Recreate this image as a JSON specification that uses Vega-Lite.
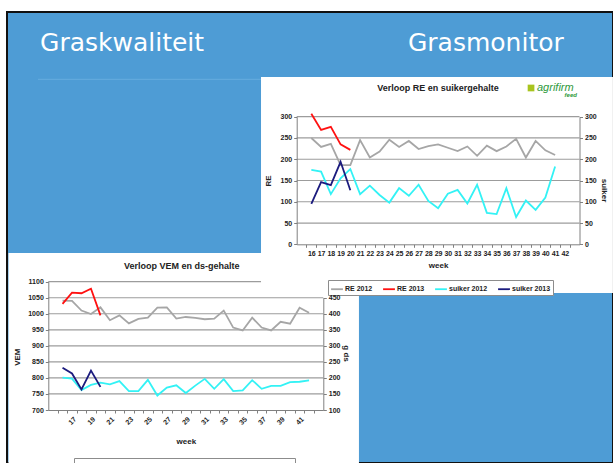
{
  "$schema": "https://vega.github.io/schema/vega-lite/v6.json",
  "width": 606,
  "height": 451,
  "autosize": {"type": "none"},
  "padding": {"left": 7, "top": 12, "right": 0, "bottom": 0},
  "background": "white",
  "config": {
    "view": {"fill": "#4E9CD5", "stroke": "#111111", "strokeWidth": 2},
    "axis": {
      "labelFont": "Liberation Sans", "labelFontWeight": "bold", "labelFontSize": 7, "labelColor": "#222222",
      "titleFont": "Liberation Sans", "titleFontSize": 8, "titleFontWeight": "bold", "titleColor": "#222222",
      "domainColor": "#808080", "tickColor": "#808080", "tickSize": 3, "grid": false, "zindex": 1, "labelPadding": 2
    },
    "line": {"strokeWidth": 1.8}
  },
  "datasets": {
    "one": [{}],
    "re": [
      {"week": 16, "value": 250, "series": "RE 2012"}, {"week": 17, "value": 229, "series": "RE 2012"},
      {"week": 18, "value": 236, "series": "RE 2012"}, {"week": 19, "value": 186, "series": "RE 2012"},
      {"week": 20, "value": 186, "series": "RE 2012"}, {"week": 21, "value": 245, "series": "RE 2012"},
      {"week": 22, "value": 204, "series": "RE 2012"}, {"week": 23, "value": 218, "series": "RE 2012"},
      {"week": 24, "value": 246, "series": "RE 2012"}, {"week": 25, "value": 229, "series": "RE 2012"},
      {"week": 26, "value": 243, "series": "RE 2012"}, {"week": 27, "value": 224, "series": "RE 2012"},
      {"week": 28, "value": 231, "series": "RE 2012"}, {"week": 29, "value": 235, "series": "RE 2012"},
      {"week": 30, "value": 227, "series": "RE 2012"}, {"week": 31, "value": 219, "series": "RE 2012"},
      {"week": 32, "value": 230, "series": "RE 2012"}, {"week": 33, "value": 208, "series": "RE 2012"},
      {"week": 34, "value": 232, "series": "RE 2012"}, {"week": 35, "value": 219, "series": "RE 2012"},
      {"week": 36, "value": 230, "series": "RE 2012"}, {"week": 37, "value": 248, "series": "RE 2012"},
      {"week": 38, "value": 204, "series": "RE 2012"}, {"week": 39, "value": 243, "series": "RE 2012"},
      {"week": 40, "value": 221, "series": "RE 2012"}, {"week": 41, "value": 210, "series": "RE 2012"},
      {"week": 16, "value": 307, "series": "RE 2013"}, {"week": 17, "value": 269, "series": "RE 2013"},
      {"week": 18, "value": 276, "series": "RE 2013"}, {"week": 19, "value": 235, "series": "RE 2013"},
      {"week": 20, "value": 222, "series": "RE 2013"}
    ],
    "suiker": [
      {"week": 16, "value": 175, "series": "suiker 2012"}, {"week": 17, "value": 171, "series": "suiker 2012"},
      {"week": 18, "value": 118, "series": "suiker 2012"}, {"week": 19, "value": 155, "series": "suiker 2012"},
      {"week": 20, "value": 177, "series": "suiker 2012"}, {"week": 21, "value": 118, "series": "suiker 2012"},
      {"week": 22, "value": 138, "series": "suiker 2012"}, {"week": 23, "value": 116, "series": "suiker 2012"},
      {"week": 24, "value": 98, "series": "suiker 2012"}, {"week": 25, "value": 132, "series": "suiker 2012"},
      {"week": 26, "value": 114, "series": "suiker 2012"}, {"week": 27, "value": 140, "series": "suiker 2012"},
      {"week": 28, "value": 102, "series": "suiker 2012"}, {"week": 29, "value": 85, "series": "suiker 2012"},
      {"week": 30, "value": 119, "series": "suiker 2012"}, {"week": 31, "value": 128, "series": "suiker 2012"},
      {"week": 32, "value": 96, "series": "suiker 2012"}, {"week": 33, "value": 140, "series": "suiker 2012"},
      {"week": 34, "value": 74, "series": "suiker 2012"}, {"week": 35, "value": 71, "series": "suiker 2012"},
      {"week": 36, "value": 132, "series": "suiker 2012"}, {"week": 37, "value": 64, "series": "suiker 2012"},
      {"week": 38, "value": 103, "series": "suiker 2012"}, {"week": 39, "value": 81, "series": "suiker 2012"},
      {"week": 40, "value": 110, "series": "suiker 2012"}, {"week": 41, "value": 183, "series": "suiker 2012"},
      {"week": 16, "value": 95, "series": "suiker 2013"}, {"week": 17, "value": 146, "series": "suiker 2013"},
      {"week": 18, "value": 139, "series": "suiker 2013"}, {"week": 19, "value": 194, "series": "suiker 2013"},
      {"week": 20, "value": 127, "series": "suiker 2013"}
    ],
    "vem": [
      {"week": 16, "value": 1041, "series": "VEM 2012"}, {"week": 17, "value": 1040, "series": "VEM 2012"},
      {"week": 18, "value": 1010, "series": "VEM 2012"}, {"week": 19, "value": 999, "series": "VEM 2012"},
      {"week": 20, "value": 1020, "series": "VEM 2012"}, {"week": 21, "value": 980, "series": "VEM 2012"},
      {"week": 22, "value": 995, "series": "VEM 2012"}, {"week": 23, "value": 970, "series": "VEM 2012"},
      {"week": 24, "value": 984, "series": "VEM 2012"}, {"week": 25, "value": 988, "series": "VEM 2012"},
      {"week": 26, "value": 1019, "series": "VEM 2012"}, {"week": 27, "value": 1020, "series": "VEM 2012"},
      {"week": 28, "value": 985, "series": "VEM 2012"}, {"week": 29, "value": 990, "series": "VEM 2012"},
      {"week": 30, "value": 987, "series": "VEM 2012"}, {"week": 31, "value": 983, "series": "VEM 2012"},
      {"week": 32, "value": 985, "series": "VEM 2012"}, {"week": 33, "value": 1010, "series": "VEM 2012"},
      {"week": 34, "value": 957, "series": "VEM 2012"}, {"week": 35, "value": 948, "series": "VEM 2012"},
      {"week": 36, "value": 988, "series": "VEM 2012"}, {"week": 37, "value": 957, "series": "VEM 2012"},
      {"week": 38, "value": 948, "series": "VEM 2012"}, {"week": 39, "value": 975, "series": "VEM 2012"},
      {"week": 40, "value": 969, "series": "VEM 2012"}, {"week": 41, "value": 1019, "series": "VEM 2012"},
      {"week": 42, "value": 1003, "series": "VEM 2012"},
      {"week": 16, "value": 1031, "series": "VEM 2013"}, {"week": 17, "value": 1066, "series": "VEM 2013"},
      {"week": 18, "value": 1064, "series": "VEM 2013"}, {"week": 19, "value": 1078, "series": "VEM 2013"},
      {"week": 20, "value": 995, "series": "VEM 2013"}
    ],
    "ds": [
      {"week": 16, "value": 201, "series": "g ds 2012"}, {"week": 17, "value": 198, "series": "g ds 2012"},
      {"week": 18, "value": 162, "series": "g ds 2012"}, {"week": 19, "value": 178, "series": "g ds 2012"},
      {"week": 20, "value": 185, "series": "g ds 2012"}, {"week": 21, "value": 180, "series": "g ds 2012"},
      {"week": 22, "value": 190, "series": "g ds 2012"}, {"week": 23, "value": 159, "series": "g ds 2012"},
      {"week": 24, "value": 159, "series": "g ds 2012"}, {"week": 25, "value": 194, "series": "g ds 2012"},
      {"week": 26, "value": 145, "series": "g ds 2012"}, {"week": 27, "value": 170, "series": "g ds 2012"},
      {"week": 28, "value": 177, "series": "g ds 2012"}, {"week": 29, "value": 153, "series": "g ds 2012"},
      {"week": 30, "value": 176, "series": "g ds 2012"}, {"week": 31, "value": 197, "series": "g ds 2012"},
      {"week": 32, "value": 166, "series": "g ds 2012"}, {"week": 33, "value": 196, "series": "g ds 2012"},
      {"week": 34, "value": 159, "series": "g ds 2012"}, {"week": 35, "value": 161, "series": "g ds 2012"},
      {"week": 36, "value": 193, "series": "g ds 2012"}, {"week": 37, "value": 166, "series": "g ds 2012"},
      {"week": 38, "value": 175, "series": "g ds 2012"}, {"week": 39, "value": 175, "series": "g ds 2012"},
      {"week": 40, "value": 187, "series": "g ds 2012"}, {"week": 41, "value": 188, "series": "g ds 2012"},
      {"week": 42, "value": 192, "series": "g ds 2012"},
      {"week": 16, "value": 232, "series": "g ds 2013"}, {"week": 17, "value": 214, "series": "g ds 2013"},
      {"week": 18, "value": 164, "series": "g ds 2013"}, {"week": 19, "value": 223, "series": "g ds 2013"},
      {"week": 20, "value": 172, "series": "g ds 2013"}
    ],
    "vemgrid": [{"v": 750}, {"v": 800}, {"v": 850}, {"v": 900}, {"v": 950}, {"v": 1000}, {"v": 1050}, {"v": 1100}],
    "regrid": [{"v": 50}, {"v": 100}, {"v": 150}, {"v": 200}, {"v": 250}, {"v": 300}]
  },
  "resolve": {"scale": {"x": "independent", "y": "independent", "color": "independent"}},
  "layer": [
    {
      "data": {"name": "one"},
      "mark": {"type": "rect", "color": "white"},
      "encoding": {
        "x": {"datum": 10.3, "type": "quantitative", "scale": {"domain": [14.5, 43.5], "range": [41.3, 316.3], "nice": false, "zero": false}, "axis": null},
        "x2": {"datum": 47.26},
        "y": {"datum": 1189.5, "type": "quantitative", "scale": {"domain": [700, 1100], "range": [398, 269.7], "nice": false, "zero": false}, "axis": null},
        "y2": {"datum": 534.8}
      }
    },
    {
      "data": {"name": "vemgrid"},
      "mark": {"type": "rule", "color": "#9C9C9C", "strokeWidth": 1.2},
      "encoding": {
        "x": {"datum": 14.5, "type": "quantitative", "scale": {"domain": [14.5, 43.5], "range": [41.3, 316.3], "nice": false, "zero": false}, "axis": null},
        "x2": {"datum": 43.5},
        "y": {"field": "v", "type": "quantitative", "scale": {"domain": [700, 1100], "range": [398, 269.7], "nice": false, "zero": false}, "axis": null}
      }
    },
    {
      "data": {"name": "one"},
      "mark": {"type": "text", "text": "Verloop VEM en ds-gehalte", "font": "Liberation Sans", "fontWeight": "bold", "fontSize": 9, "color": "#222222", "align": "center", "baseline": "alphabetic"},
      "encoding": {
        "x": {"datum": 28.57, "type": "quantitative", "scale": {"domain": [14.5, 43.5], "range": [41.3, 316.3], "nice": false, "zero": false}, "axis": null},
        "y": {"datum": 1139.6, "type": "quantitative", "scale": {"domain": [700, 1100], "range": [398, 269.7], "nice": false, "zero": false}, "axis": null}
      }
    },
    {
      "data": {"name": "vem"},
      "mark": {"type": "line"},
      "encoding": {
        "x": {"field": "week", "type": "quantitative", "scale": {"domain": [14.5, 43.5], "range": [41.3, 316.3], "nice": false, "zero": false},
          "axis": {"zindex": 2, "orient": "bottom", "offset": -53, "values": [16, 17, 18, 19, 20, 21, 22, 23, 24, 25, 26, 27, 28, 29, 30, 31, 32, 33, 34, 35, 36, 37, 38, 39, 40, 41, 42, 43], "format": "d",
            "labelExpr": "(datum.value % 2 == 1 && datum.value < 42) ? datum.label : ''", "labelOverlap": false, "labelAngle": -45, "tickOffset": -4.74, "labelOffset": 4.74,
            "title": "week", "titlePadding": 12}},
        "y": {"field": "value", "type": "quantitative", "scale": {"domain": [700, 1100], "range": [398, 269.7], "nice": false, "zero": false},
          "axis": {"zindex": 2, "orient": "left", "offset": -41.3, "values": [700, 750, 800, 850, 900, 950, 1000, 1050, 1100], "format": "d", "title": "VEM", "titlePadding": 6, "titleY": 344.7}},
        "color": {"field": "series", "type": "nominal",
          "scale": {"domain": ["VEM 2012", "VEM 2013", "g ds 2012", "g ds 2013"], "range": ["#A6A6A6", "#FF1111", "#33F2F5", "#1B1B7E"]},
          "legend": {"orient": "none", "legendX": 67, "legendY": 446, "direction": "horizontal", "title": null, "strokeColor": "#8C8C8C", "fillColor": "white", "padding": 2,
            "labelFont": "Liberation Sans", "labelFontSize": 7, "labelFontWeight": "bold", "labelColor": "#222222", "symbolType": "stroke", "symbolStrokeWidth": 1.6, "symbolSize": 140, "columnPadding": 6, "labelOffset": 1}}
      }
    },
    {
      "data": {"name": "ds"},
      "mark": {"type": "line"},
      "encoding": {
        "x": {"field": "week", "type": "quantitative", "scale": {"domain": [14.5, 43.5], "range": [41.3, 316.3], "nice": false, "zero": false}, "axis": null},
        "y": {"field": "value", "type": "quantitative", "scale": {"domain": [100, 450], "range": [398, 285.7], "nice": false, "zero": false},
          "axis": {"zindex": 2, "orient": "right", "offset": -289.7, "values": [100, 150, 200, 250, 300, 350, 400, 450], "format": "d", "title": "g ds", "titleAngle": 90, "titlePadding": 2, "titleY": 341}},
        "color": {"field": "series", "type": "nominal",
          "scale": {"domain": ["VEM 2012", "VEM 2013", "g ds 2012", "g ds 2013"], "range": ["#A6A6A6", "#FF1111", "#33F2F5", "#1B1B7E"]},
          "legend": null}
      }
    },
    {
      "data": {"name": "one"},
      "mark": {"type": "rule", "color": "#66ACDF", "strokeWidth": 1},
      "encoding": {
        "x": {"datum": -12.03, "type": "quantitative", "scale": {"domain": [14.5, 43.5], "range": [289.7, 572.5], "nice": false, "zero": false}, "axis": null},
        "x2": {"datum": 10.84},
        "y": {"datum": 387.9, "type": "quantitative", "scale": {"domain": [0, 300], "range": [232.3, 104.7], "nice": false, "zero": false}, "axis": null}
      }
    },
    {
      "data": {"name": "one"},
      "mark": {"type": "text", "text": "Graskwaliteit", "font": "DejaVu Sans", "fontSize": 25, "color": "white", "align": "left", "baseline": "alphabetic"},
      "encoding": {
        "x": {"datum": -11.82, "type": "quantitative", "scale": {"domain": [14.5, 43.5], "range": [289.7, 572.5], "nice": false, "zero": false}, "axis": null},
        "y": {"datum": 454.5, "type": "quantitative", "scale": {"domain": [0, 300], "range": [232.3, 104.7], "nice": false, "zero": false}, "axis": null}
      }
    },
    {
      "data": {"name": "one"},
      "mark": {"type": "text", "text": "Grasmonitor", "font": "DejaVu Sans", "fontSize": 25, "color": "white", "align": "left", "baseline": "alphabetic"},
      "encoding": {
        "x": {"datum": 25.91, "type": "quantitative", "scale": {"domain": [14.5, 43.5], "range": [289.7, 572.5], "nice": false, "zero": false}, "axis": null},
        "y": {"datum": 454.5, "type": "quantitative", "scale": {"domain": [0, 300], "range": [232.3, 104.7], "nice": false, "zero": false}, "axis": null}
      }
    },
    {
      "data": {"name": "one"},
      "mark": {"type": "rect", "color": "white"},
      "encoding": {
        "x": {"datum": 10.84, "type": "quantitative", "scale": {"domain": [14.5, 43.5], "range": [289.7, 572.5], "nice": false, "zero": false}, "axis": null},
        "x2": {"datum": 46.93},
        "y": {"datum": 393.3, "type": "quantitative", "scale": {"domain": [0, 300], "range": [232.3, 104.7], "nice": false, "zero": false}, "axis": null},
        "y2": {"datum": -114.5}
      }
    },
    {
      "data": {"name": "regrid"},
      "mark": {"type": "rule", "color": "#9C9C9C", "strokeWidth": 1.2},
      "encoding": {
        "x": {"datum": 14.5, "type": "quantitative", "scale": {"domain": [14.5, 43.5], "range": [289.7, 572.5], "nice": false, "zero": false}, "axis": null},
        "x2": {"datum": 43.5},
        "y": {"field": "v", "type": "quantitative", "scale": {"domain": [0, 300], "range": [232.3, 104.7], "nice": false, "zero": false}, "axis": null}
      }
    },
    {
      "data": {"name": "one"},
      "mark": {"type": "text", "text": "Verloop RE en suikergehalte", "font": "Liberation Sans", "fontWeight": "bold", "fontSize": 9, "color": "#222222", "align": "center", "baseline": "alphabetic"},
      "encoding": {
        "x": {"datum": 29.0, "type": "quantitative", "scale": {"domain": [14.5, 43.5], "range": [289.7, 572.5], "nice": false, "zero": false}, "axis": null},
        "y": {"datum": 359.3, "type": "quantitative", "scale": {"domain": [0, 300], "range": [232.3, 104.7], "nice": false, "zero": false}, "axis": null}
      }
    },
    {
      "data": {"name": "one"},
      "mark": {"type": "point", "shape": "square", "filled": true, "size": 45, "color": "#A8C41E", "opacity": 1},
      "encoding": {
        "x": {"datum": 38.53, "type": "quantitative", "scale": {"domain": [14.5, 43.5], "range": [289.7, 572.5], "nice": false, "zero": false}, "axis": null},
        "y": {"datum": 367.5, "type": "quantitative", "scale": {"domain": [0, 300], "range": [232.3, 104.7], "nice": false, "zero": false}, "axis": null}
      }
    },
    {
      "data": {"name": "one"},
      "mark": {"type": "text", "text": "agrifirm", "font": "Liberation Sans", "fontStyle": "italic", "fontSize": 11, "color": "#2E9A3C", "align": "left", "baseline": "alphabetic"},
      "encoding": {
        "x": {"datum": 39.14, "type": "quantitative", "scale": {"domain": [14.5, 43.5], "range": [289.7, 572.5], "nice": false, "zero": false}, "axis": null},
        "y": {"datum": 360.4, "type": "quantitative", "scale": {"domain": [0, 300], "range": [232.3, 104.7], "nice": false, "zero": false}, "axis": null}
      }
    },
    {
      "data": {"name": "one"},
      "mark": {"type": "text", "text": "feed", "font": "Liberation Sans", "fontStyle": "italic", "fontWeight": "bold", "fontSize": 6, "color": "#2E9A3C", "align": "right", "baseline": "alphabetic"},
      "encoding": {
        "x": {"datum": 43.24, "type": "quantitative", "scale": {"domain": [14.5, 43.5], "range": [289.7, 572.5], "nice": false, "zero": false}, "axis": null},
        "y": {"datum": 346.3, "type": "quantitative", "scale": {"domain": [0, 300], "range": [232.3, 104.7], "nice": false, "zero": false}, "axis": null}
      }
    },
    {
      "data": {"name": "re"},
      "mark": {"type": "line"},
      "encoding": {
        "x": {"field": "week", "type": "quantitative", "scale": {"domain": [14.5, 43.5], "range": [289.7, 572.5], "nice": false, "zero": false},
          "axis": {"zindex": 2, "orient": "bottom", "offset": -218.7, "values": [16, 17, 18, 19, 20, 21, 22, 23, 24, 25, 26, 27, 28, 29, 30, 31, 32, 33, 34, 35, 36, 37, 38, 39, 40, 41, 42, 43], "format": "d",
            "labelExpr": "datum.value < 43 ? datum.label : ''", "labelOverlap": false, "labelAngle": 0, "tickOffset": -4.876, "labelOffset": 4.876,
            "title": "week", "titlePadding": 5}},
        "y": {"field": "value", "type": "quantitative", "scale": {"domain": [0, 300], "range": [232.3, 104.7], "nice": false, "zero": false},
          "axis": {"zindex": 2, "orient": "left", "offset": -289.7, "values": [0, 50, 100, 150, 200, 250, 300], "format": "d", "title": "RE", "titlePadding": 8}},
        "color": {"field": "series", "type": "nominal",
          "scale": {"domain": ["RE 2012", "RE 2013", "suiker 2012", "suiker 2013"], "range": ["#A6A6A6", "#FF1111", "#33F2F5", "#1B1B7E"]},
          "legend": {"orient": "none", "legendX": 321, "legendY": 268, "direction": "horizontal", "title": null, "strokeColor": "#8C8C8C", "fillColor": "white", "padding": 2,
            "labelFont": "Liberation Sans", "labelFontSize": 7, "labelFontWeight": "bold", "labelColor": "#222222", "symbolType": "stroke", "symbolStrokeWidth": 1.6, "symbolSize": 140, "columnPadding": 6, "labelOffset": 1}}
      }
    },
    {
      "data": {"name": "suiker"},
      "mark": {"type": "line"},
      "encoding": {
        "x": {"field": "week", "type": "quantitative", "scale": {"domain": [14.5, 43.5], "range": [289.7, 572.5], "nice": false, "zero": false}, "axis": null},
        "y": {"field": "value", "type": "quantitative", "scale": {"domain": [0, 300], "range": [232.3, 104.7], "nice": false, "zero": false},
          "axis": {"zindex": 2, "orient": "right", "offset": -33.5, "values": [0, 50, 100, 150, 200, 250, 300], "format": "d", "title": "suiker", "titleAngle": 90, "titlePadding": 3, "titleY": 178}},
        "color": {"field": "series", "type": "nominal",
          "scale": {"domain": ["RE 2012", "RE 2013", "suiker 2012", "suiker 2013"], "range": ["#A6A6A6", "#FF1111", "#33F2F5", "#1B1B7E"]},
          "legend": null}
      }
    }
  ]
}
